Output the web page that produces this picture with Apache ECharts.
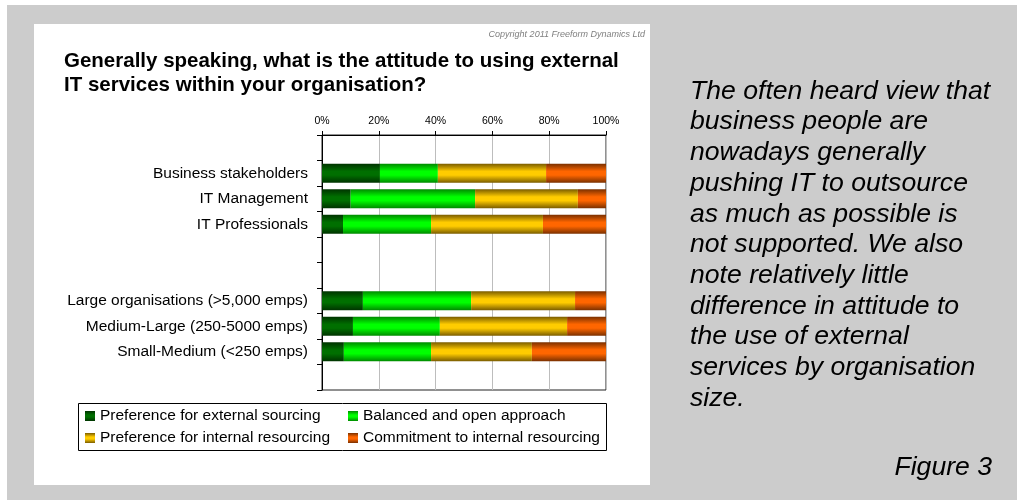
<!DOCTYPE html>
<html>
<head>
<meta charset="utf-8">
<script src="https://cdn.jsdelivr.net/npm/echarts@6/dist/echarts.min.js"></script>
<style>
  html, body { margin: 0; padding: 0; background: #ffffff; }
  #chart { width: 1017px; height: 500px; }
</style>
</head>
<body>
<div id="chart"></div>
<script>
// Rows of the chart (blank rows separate the two groups)
const categories = [
  '', 'Business stakeholders', 'IT Management', 'IT Professionals', '', '',
  'Large organisations (>5,000 emps)', 'Medium-Large (250-5000 emps)', 'Small-Medium (<250 emps)', ''
];

// Share of respondents (%) per answer
const externalSourcing = [null, 20.4, 10.1, 7.4, null, null, 14.4, 10.9, 7.7, null];
const balancedOpen     = [null, 20.4, 43.8, 31.0, null, null, 38.1, 30.6, 30.7, null];
const internalPref     = [null, 38.1, 36.2, 39.4, null, null, 36.6, 44.8, 35.5, null];
const internalCommit   = [null, 21.1,  9.9, 22.2, null, null, 10.9, 13.7, 26.1, null];

const seriesNames = [
  'Preference for external sourcing',
  'Balanced and open approach',
  'Preference for internal resourcing',
  'Commitment to internal resourcing'
];

const xTicks = [0, 20, 40, 60, 80, 100];

const paragraph = [
  'The often heard view that',
  'business people are',
  'nowadays generally',
  'pushing IT to outsource',
  'as much as possible is',
  'not supported. We also',
  'note relatively little',
  'difference in attitude to',
  'the use of external',
  'services by organisation',
  'size.'
];

const FONT = "'Liberation Sans', Arial, sans-serif";

// shaded bar fill: darker at top/bottom edges, bright in the middle
function shade(edge, mid) {
  return new echarts.graphic.LinearGradient(0, 0, 0, 1, [
    { offset: 0, color: edge },
    { offset: 0.4, color: mid },
    { offset: 0.6, color: mid },
    { offset: 1, color: edge }
  ]);
}

const fills = [
  shade('#003300', '#006f00'),
  shade('#008a00', '#00ff00'),
  shade('#7a5c00', '#ffcc00'),
  shade('#7a3000', '#ff6600')
];

const valueSets = [externalSourcing, balancedOpen, internalPref, internalCommit];

const chart = echarts.init(document.getElementById('chart'), null, { renderer: 'canvas' });

const legendText = { fontFamily: FONT, fontSize: 15.5, color: '#000', lineHeight: 18 };

chart.setOption({
  backgroundColor: '#cccccc',
  animation: false,
  graphic: [
    { type: 'rect', z: -10, shape: { x: 0, y: 0, width: 7, height: 500 }, style: { fill: '#ffffff' } },
    { type: 'rect', z: -10, shape: { x: 0, y: 0, width: 1017, height: 5 }, style: { fill: '#ffffff' } },
    { type: 'rect', z: -10, shape: { x: 34, y: 24, width: 616, height: 461 }, style: { fill: '#ffffff' } },
    { type: 'rect', z: 10, shape: { x: 78.5, y: 403.5, width: 528, height: 47 }, style: { fill: 'none', stroke: '#000', lineWidth: 1 } }
  ],
  title: [
    {
      text: 'Generally speaking, what is the attitude to using external\nIT services within your organisation?',
      left: 59, top: 44,
      textStyle: { fontFamily: FONT, fontSize: 20.5, fontWeight: 'bold', color: '#000', lineHeight: 24 }
    },
    {
      text: 'Copyright 2011 Freeform Dynamics Ltd',
      right: 367, top: 25,
      textStyle: { fontFamily: FONT, fontSize: 9, fontStyle: 'italic', fontWeight: 'normal', color: '#808080' }
    },
    {
      text: paragraph.join('\n'),
      left: 685, top: 71,
      textStyle: { fontFamily: FONT, fontSize: 26.6, fontStyle: 'italic', fontWeight: 'normal', color: '#000', lineHeight: 30.7 }
    },
    {
      text: 'Figure 3',
      right: 20, top: 447,
      textStyle: { fontFamily: FONT, fontSize: 26.6, fontStyle: 'italic', fontWeight: 'normal', color: '#000', lineHeight: 30.7 }
    }
  ],
  legend: [
    {
      orient: 'vertical', left: 85, top: 407, itemGap: 4, padding: 0,
      itemWidth: 10, itemHeight: 10, icon: 'rect',
      data: [seriesNames[0], seriesNames[2]],
      textStyle: legendText
    },
    {
      orient: 'vertical', left: 348, top: 407, itemGap: 4, padding: 0,
      itemWidth: 10, itemHeight: 10, icon: 'rect',
      data: [seriesNames[1], seriesNames[3]],
      textStyle: legendText
    }
  ],
  grid: {
    left: 322, top: 135, width: 284, height: 255,
    show: true, borderColor: '#222', borderWidth: 1, backgroundColor: 'transparent'
  },
  xAxis: {
    type: 'value', position: 'top', min: 0, max: 100, interval: 20,
    axisLine: { show: true, lineStyle: { color: '#000', width: 1 } },
    axisTick: { show: true, length: 4, lineStyle: { color: '#000' } },
    axisLabel: {
      formatter: v => xTicks.includes(v) ? v + '%' : '',
      fontFamily: FONT, fontSize: 10.5, color: '#000', margin: 8
    },
    splitLine: { show: true, lineStyle: { color: '#bdbdbd', width: 1 } }
  },
  yAxis: {
    type: 'category', inverse: true, data: categories,
    axisLine: { show: true, lineStyle: { color: '#000', width: 1 } },
    axisTick: { show: true, length: 5, alignWithLabel: false, lineStyle: { color: '#000' } },
    axisLabel: { fontFamily: FONT, fontSize: 15.5, color: '#000', margin: 14, interval: 0 }
  },
  series: valueSets.map((vals, i) => ({
    name: seriesNames[i],
    type: 'bar',
    stack: 'total',
    barWidth: 19,
    data: vals,
    itemStyle: { color: fills[i] }
  }))
});
</script>
</body>
</html>
